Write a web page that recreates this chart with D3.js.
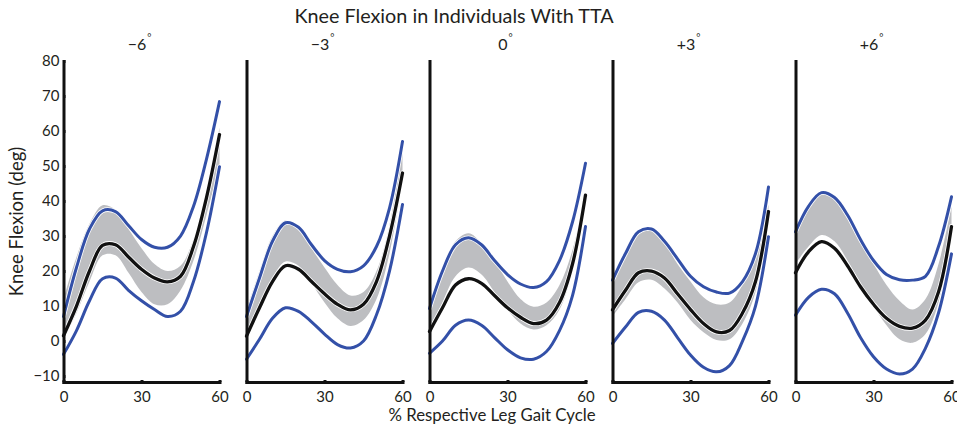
<!DOCTYPE html>
<html>
<head>
<meta charset="utf-8">
<script src="https://cdn.jsdelivr.net/npm/d3@7"></script>
<style>
  html, body { margin: 0; padding: 0; background: #fff; }
  svg { display: block; font-family: Lato, "Open Sans", sans-serif; }
</style>
</head>
<body>
<svg id="chart" width="957" height="428"></svg>
<script>
// Sample positions along the gait cycle (% of the respective leg's cycle)
const gaitPct = [0, 5, 10, 15, 20, 25, 30, 35, 40, 45, 50, 55, 60];

// Alignment conditions, one panel each
const alignLabels = ["\u22126", "\u22123", "0", "+3", "+6"];

// Mean knee flexion (deg) per condition
const meanFlexion = [
  [1.5, 10, 20, 27.3, 27.5, 24, 20.5, 18, 16.9, 18.5, 27, 41, 59],
  [1.4, 9.5, 17, 21.5, 20.5, 17, 13.5, 10.5, 8.9, 10.5, 17, 30, 48],
  [2.7, 9.5, 16, 17.8, 16.5, 13, 9.5, 6.8, 5, 6, 11, 22, 41.7],
  [8.9, 14.5, 19.5, 20, 18, 13.5, 9, 5, 2.6, 3, 8, 17, 37],
  [19.5, 25.5, 28.4, 26.5, 21.5, 15.5, 10.5, 6.5, 4.2, 3.7, 6, 14, 32.7]
];

// Upper bound of the individuals' spread (deg)
const upperFlexion = [
  [7, 21, 32, 37.2, 37, 33, 29, 26.8, 26.8, 30, 38.5, 52, 68.4],
  [7, 18, 28.5, 33.8, 32.5, 27.5, 23, 20.5, 19.8, 21.5, 27, 38, 57],
  [9.3, 20, 27.5, 29.5, 27.5, 23, 19, 16.3, 15.3, 17, 23, 34, 50.8],
  [17.4, 25, 31.2, 32, 28.5, 23.5, 18.5, 15.5, 14, 13.7, 17, 25, 44],
  [31.2, 38.5, 42.4, 41, 36, 29, 23, 19, 17.5, 17.4, 18.5, 27, 41.2]
];

// Lower bound of the individuals' spread (deg)
const lowerFlexion = [
  [-3.8, 3, 11.5, 17.8, 18, 14.5, 11.5, 9, 7, 8.5, 17, 31, 49.8],
  [-5.2, 0.5, 6.5, 9.5, 8.5, 5.5, 2, -1, -2, 0, 7.5, 20, 39],
  [-3.5, 0, 4.5, 6, 4.5, 1, -2.5, -4.8, -5.2, -3, 3, 13, 32.7],
  [-0.7, 4, 8.2, 8.5, 6, 1, -4, -7.5, -8.8, -7, 0, 10, 29.8],
  [7.4, 12.5, 14.8, 13.5, 8, 1, -4.5, -8, -9.4, -8, -2, 8, 24.9]
];

// Reference band, upper edge (deg)
const bandHigh = [
  [12, 24, 33.5, 38.8, 37.5, 32, 26.5, 22, 20, 21.5, 29, 42, 61],
  [9, 20, 30, 34.5, 32.5, 26.5, 21, 16, 13, 14, 20, 33, 55.5],
  [10, 21, 28.5, 30.8, 28, 23, 17, 12, 9.8, 11, 16, 26, 42],
  [16.5, 24, 30.5, 31.5, 28, 22, 17, 12.5, 10.5, 11, 16, 24, 39],
  [31, 38, 42, 40.5, 35, 28, 22, 16, 11.5, 9, 12, 22, 38.4]
];

// Reference band, lower edge (deg)
const bandLow = [
  [0.5, 8, 17, 24.5, 24.5, 19.5, 14, 10.5, 10.5, 14.5, 23, 36, 50],
  [1, 9.5, 18, 22.7, 21.5, 16.5, 11, 6.5, 4.3, 6, 12, 25, 46],
  [2, 11, 18.5, 21, 19, 14, 9, 5, 3.3, 4.5, 9, 20, 38.5],
  [7, 12, 16.8, 17.5, 15, 11, 6, 2.5, 0.3, 0.5, 5, 14, 35.5],
  [22, 27, 30.3, 28.5, 23, 16.5, 10, 4.5, 0.5, -0.5, 2, 11, 31.7]
];

const xTicks = [0, 30, 60];
const yTicks = [-10, 0, 10, 20, 30, 40, 50, 60, 70, 80];

const svg = d3.select("#chart");
const panelLeft = 63.5, panelStep = 183, panelWidth = 156;
const plotTop = 61, plotBottom = 382;

const y = d3.scaleLinear().domain([-11.7, 80]).range([plotBottom, plotTop]);

const BLUE = "#3350a8", GRAY = "#bdbec1", INK = "#231f20";

svg.append("text")
  .attr("x", 454).attr("y", 23)
  .attr("text-anchor", "middle")
  .attr("font-size", 19.8)
  .attr("fill", INK)
  .text("Knee Flexion in Individuals With TTA");

svg.append("text")
  .attr("transform", `translate(23,${(plotTop + plotBottom) / 2}) rotate(-90)`)
  .attr("text-anchor", "middle")
  .attr("font-size", 18.5)
  .attr("fill", INK)
  .text("Knee Flexion (deg)");

svg.append("text")
  .attr("x", 492).attr("y", 421)
  .attr("text-anchor", "middle")
  .attr("font-size", 16.8)
  .attr("fill", INK)
  .text("% Respective Leg Gait Cycle");

alignLabels.forEach((lab, i) => {
  const x0 = panelLeft + i * panelStep;
  const x = d3.scaleLinear().domain([0, 60]).range([x0, x0 + panelWidth]);
  const g = svg.append("g");

  const pts = (arr) => arr.map((v, k) => [gaitPct[k], v]);
  const line = d3.line().x(d => x(d[0])).y(d => y(d[1])).curve(d3.curveCatmullRom.alpha(0.5));
  const area = d3.area()
    .x((d, k) => x(gaitPct[k]))
    .y0(d => y(d[0]))
    .y1(d => y(d[1]))
    .curve(d3.curveCatmullRom.alpha(0.5));

  // reference band
  g.append("path")
    .datum(bandLow[i].map((v, k) => [v, bandHigh[i][k]]))
    .attr("d", area)
    .attr("fill", GRAY);

  // curves with a thin white edge
  const series = [
    { data: upperFlexion[i], color: BLUE, w: 3 },
    { data: lowerFlexion[i], color: BLUE, w: 3 },
    { data: meanFlexion[i], color: "#111", w: 3.3 }
  ];
  series.forEach(s => {
    g.append("path").datum(pts(s.data)).attr("d", line)
      .attr("fill", "none").attr("stroke", "#fff").attr("stroke-width", s.w + 1.6)
      .attr("stroke-linecap", "round");
  });
  series.forEach(s => {
    g.append("path").datum(pts(s.data)).attr("d", line)
      .attr("fill", "none").attr("stroke", s.color).attr("stroke-width", s.w)
      .attr("stroke-linecap", "round");
  });

  // x axis
  const xa = g.append("g").attr("transform", `translate(0,${plotBottom})`)
    .call(d3.axisBottom(x).tickValues(xTicks).tickSizeInner(-2).tickSizeOuter(0).tickPadding(9));
  // y axis
  const yAxis = d3.axisLeft(y).tickSizeOuter(0).tickPadding(4);
  if (i === 0) yAxis.tickValues(yTicks).tickSizeInner(-2).tickFormat(d => d < 0 ? "\u2212" + Math.abs(d) : d);
  else yAxis.tickValues([]);
  const ya = g.append("g").attr("transform", `translate(${x0},0)`).call(yAxis);

  [xa, ya].forEach(a => {
    a.select(".domain").attr("stroke", "#111").attr("stroke-width", 3).attr("stroke-linecap", "square");
    a.selectAll(".tick line").attr("stroke", "#111").attr("stroke-width", 3);
    a.selectAll(".tick text").attr("font-size", 15).attr("fill", INK).attr("font-family", "Lato, sans-serif");
  });

  // panel heading with degree mark
  const t = svg.append("text")
    .attr("x", x0 + panelWidth / 2 - 2).attr("y", 50)
    .attr("text-anchor", "middle")
    .attr("font-size", 16)
    .attr("fill", INK);
  t.append("tspan").text(lab);
  t.append("tspan").attr("dx", 1).attr("dy", -9).attr("font-size", 10).text("\u00b0");
});
</script>
</body>
</html>
